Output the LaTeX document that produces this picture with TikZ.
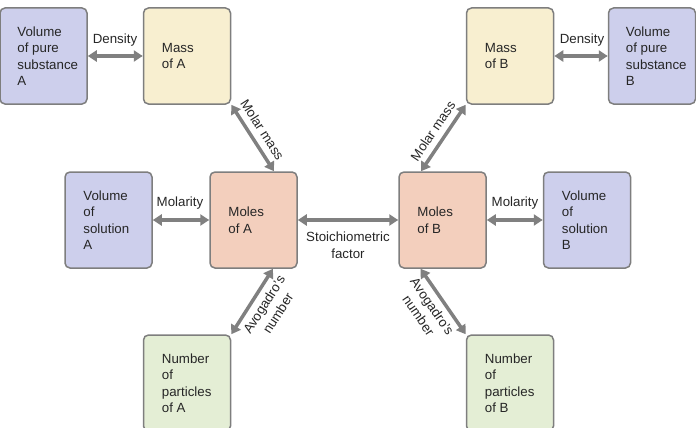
\documentclass[tikz,border=0pt]{standalone}
\usepackage{fontspec}
\setmainfont{Liberation Sans}
\usetikzlibrary{arrows.meta}
\definecolor{bluef}{HTML}{CDCFEC}
\definecolor{yellowf}{HTML}{F8EFD0}
\definecolor{pinkf}{HTML}{F3CFBD}
\definecolor{greenf}{HTML}{E4EED5}
\definecolor{boxline}{HTML}{7E7E7E}
\definecolor{arrowc}{HTML}{808080}
\definecolor{textc}{HTML}{262626}
\begin{document}
\begin{tikzpicture}[x=1pt,y=-1pt,
  box/.style={draw=boxline, line width=1.5pt, rounded corners=5pt,
    minimum width=87pt, minimum height=96pt, inner sep=0pt},
  txt/.style={anchor=west, align=left, font=\fontsize{13.3}{16.5}\selectfont,
    text=textc, inner sep=0pt},
  lab/.style={font=\fontsize{13.3}{16.5}\selectfont, text=textc, align=center, inner sep=1pt},
  dbl/.style={draw=arrowc, line width=3.5pt,
    {Triangle[width=11pt,length=9pt]}-{Triangle[width=11pt,length=9pt]}}]
\useasboundingbox (0,0) rectangle (696,428);

% boxes
\node[box, fill=bluef]   (vpa) at (43.5,56) {};
\node[box, fill=yellowf] (ma)  at (187,56) {};
\node[box, fill=pinkf]   (moa) at (253.5,220) {};
\node[box, fill=bluef]   (vsa) at (108.5,220) {};
\node[box, fill=greenf]  (npa) at (187,383) {};
\node[box, fill=pinkf]   (mob) at (442.5,220) {};
\node[box, fill=yellowf] (mb)  at (510,56) {};
\node[box, fill=bluef]   (vpb) at (652,56) {};
\node[box, fill=bluef]   (vsb) at (587,220) {};
\node[box, fill=greenf]  (npb) at (510,383) {};

% box texts
\node[txt] (vpa-t) at ([xshift=18pt]vpa.west) {Volume\\of pure\\substance\\A};
\node[txt] (ma-t)  at ([xshift=19pt]ma.west)  {Mass\\of A};
\node[txt] (moa-t) at ([xshift=19pt]moa.west) {Moles\\of A};
\node[txt] (vsa-t) at ([xshift=19pt]vsa.west) {Volume\\of\\solution\\A};
\node[txt] (npa-t) at ([xshift=19pt]npa.west) {Number\\of\\particles\\of A};
\node[txt] (mob-t) at ([xshift=19pt]mob.west) {Moles\\of B};
\node[txt] (mb-t)  at ([xshift=19pt]mb.west)  {Mass\\of B};
\node[txt] (vpb-t) at ([xshift=18pt]vpb.west) {Volume\\of pure\\substance\\B};
\node[txt] (vsb-t) at ([xshift=19pt]vsb.west) {Volume\\of\\solution\\B};
\node[txt] (npb-t) at ([xshift=19pt]npb.west) {Number\\of\\particles\\of B};

% horizontal connectors
\draw[dbl] (vpa) -- (ma);
\draw[dbl] (mb) -- (vpb);
\draw[dbl] (vsa) -- (moa);
\draw[dbl] (mob) -- (vsb);
\draw[dbl] (moa) -- (mob);

\node[lab] (dena) at (115,40) {Density};
\node[lab] (denb) at (582,40) {Density};
\node[lab] (mola) at (180,203) {Molarity};
\node[lab] (molb) at (515,203) {Molarity};
\node[lab] (stoi) at (348,245) {Stoichiometric\\factor};

% diagonal connectors
\draw[dbl] (ma.south east) -- node[lab, sloped, above=5pt, pos=0.48] (mma) {Molar mass} ([xshift=20.5pt]moa.north);
\draw[dbl] ([xshift=-21.5pt]mob.north) -- node[lab, sloped, above=5pt, pos=0.5] (mmb) {Molar mass} (mb.south west);
\draw[dbl] (npa.north east) -- node[lab, sloped, below=4pt, pos=0.55] (ava) {Avogadro's\\number} ([xshift=19.5pt]moa.south);
\draw[dbl] ([xshift=-22pt]mob.south) -- node[lab, sloped, below=4pt, pos=0.47] (avb) {Avogadro's\\number} (npb.north west);
\end{tikzpicture}
\end{document}
